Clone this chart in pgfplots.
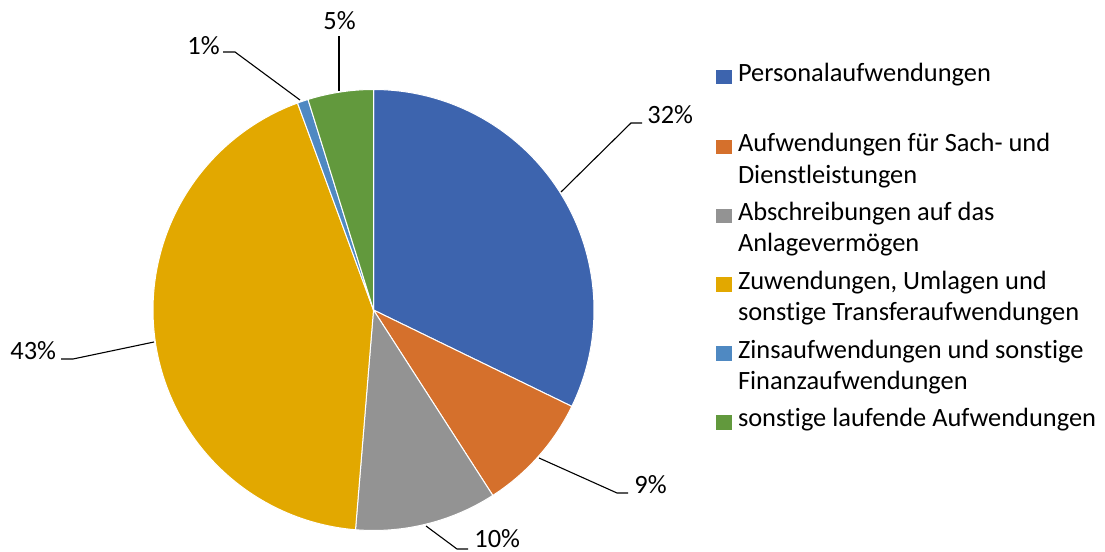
\documentclass[border=0pt]{standalone}
\usepackage{pgfplots}
\pgfplotsset{compat=1.18}
\usepackage{fontspec}
\setmainfont{Carlito}[Ligatures={NoCommon}]
\definecolor{c1}{HTML}{3D64AE}
\definecolor{c2}{HTML}{D5702C}
\definecolor{c3}{HTML}{939393}
\definecolor{c4}{HTML}{E2A800}
\definecolor{c5}{HTML}{4F89C2}
\definecolor{c6}{HTML}{62993D}
% slice shares in percent (Excel order, clockwise from 12 o'clock)
\def\va{32.2}\def\vb{8.7}\def\vc{10.4}\def\vd{43.1}\def\ve{0.8}\def\vf{4.8}
\pgfmathsetmacro\aa{90}
\pgfmathsetmacro\ab{\aa-3.6*\va}
\pgfmathsetmacro\ac{\ab-3.6*\vb}
\pgfmathsetmacro\ad{\ac-3.6*\vc}
\pgfmathsetmacro\ae{\ad-3.6*\vd}
\pgfmathsetmacro\af{\ae-3.6*\ve}
\pgfmathsetmacro\ag{\af-3.6*\vf}
\def\cx{373.5}\def\cy{242}\def\R{220.5}
\newcommand\sq[1]{\fill[#1] (0pt,-1.1pt) rectangle (7.5pt,5.7pt);}
\tikzset{lab/.style={anchor=west, inner sep=0pt, font=\fontsize{13.2}{16.5}\selectfont}}
\begin{document}
\fontsize{13.2}{16.5}\selectfont
\begin{tikzpicture}
\begin{axis}[
  width=552.5pt, height=276pt, scale only axis,
  xmin=0, xmax=1105, ymin=0, ymax=552,
  hide axis, clip=false,
  legend style={at={(axis cs:716,492.3)}, anchor=north west, draw=none, fill=none,
    inner sep=0pt, outer sep=0pt, row sep=0pt, column sep=3pt,
    nodes={inner sep=0pt, outer sep=0pt}, font=\fontsize{13.2}{16.5}\selectfont},
  legend cell align=left,
  legend style={cells={anchor=base west}},
  wedge/.style={draw=white, line width=0.5pt, variable=\t},
  lead/.style={black, line width=0.55pt, forget plot},
]
\addplot[draw=none, forget plot] coordinates {(0,0) (1105,552)};
\addplot[wedge, fill=c1, domain=\ab:\aa, samples=90,
  legend image code/.code={\sq{c1}}] ({\cx+\R*cos(t)},{\cy+\R*sin(t)}) -- (\cx,\cy) -- cycle;
\addlegendentry[text height=11pt, text depth=24pt]{Personalaufwendungen}
\addplot[wedge, fill=c2, domain=\ac:\ab, samples=30,
  legend image code/.code={\sq{c2}}] ({\cx+\R*cos(t)},{\cy+\R*sin(t)}) -- (\cx,\cy) -- cycle;
\addlegendentry[text height=11pt, text depth=4.75pt]{Aufwendungen für Sach- und}
\addlegendimage{empty legend}
\addlegendentry[text height=11pt, text depth=7.65pt]{Dienstleistungen}
\addplot[wedge, fill=c3, domain=\ad:\ac, samples=30,
  legend image code/.code={\sq{c3}}] ({\cx+\R*cos(t)},{\cy+\R*sin(t)}) -- (\cx,\cy) -- cycle;
\addlegendentry[text height=11pt, text depth=4.75pt]{Abschreibungen auf das}
\addlegendimage{empty legend}
\addlegendentry[text height=11pt, text depth=7.65pt]{Anlagevermögen}
\addplot[wedge, fill=c4, domain=\ae:\ad, samples=120,
  legend image code/.code={\sq{c4}}] ({\cx+\R*cos(t)},{\cy+\R*sin(t)}) -- (\cx,\cy) -- cycle;
\addlegendentry[text height=11pt, text depth=4.75pt]{Zuwendungen, Umlagen und}
\addlegendimage{empty legend}
\addlegendentry[text height=11pt, text depth=7.65pt]{sonstige Transferaufwendungen}
\addplot[wedge, fill=c5, domain=\af:\ae, samples=8,
  legend image code/.code={\sq{c5}}] ({\cx+\R*cos(t)},{\cy+\R*sin(t)}) -- (\cx,\cy) -- cycle;
\addlegendentry[text height=11pt, text depth=4.75pt]{Zinsaufwendungen und sonstige}
\addlegendimage{empty legend}
\addlegendentry[text height=11pt, text depth=7.65pt]{Finanzaufwendungen}
\addplot[wedge, fill=c6, domain=\ag:\af, samples=20,
  legend image code/.code={\sq{c6}}] ({\cx+\R*cos(t)},{\cy+\R*sin(t)}) -- (\cx,\cy) -- cycle;
\addlegendentry[text height=11pt, text depth=3pt]{sonstige laufende Aufwendungen}
% leader lines
\addplot[lead] coordinates {(561,360) (631,429) (642,429)};
\addplot[lead] coordinates {(539,94) (617,59) (628,59)};
\addplot[lead] coordinates {(426,26) (457,3) (468,3)};
\addplot[lead] coordinates {(154,210) (73,193) (61,193)};
\addplot[lead] coordinates {(300,452) (235,500) (223,500)};
\addplot[lead] coordinates {(339,461) (339,516)};
% data labels
\node[lab] at (axis cs:647,437) {32\%};
\node[lab] at (axis cs:634,67) {9\%};
\node[lab] at (axis cs:474,13.5) {10\%};
\node[lab] at (axis cs:10,201) {43\%};
\node[lab] at (axis cs:187,506) {1\%};
\node[lab] at (axis cs:323,531) {5\%};
\end{axis}
\end{tikzpicture}
\end{document}
